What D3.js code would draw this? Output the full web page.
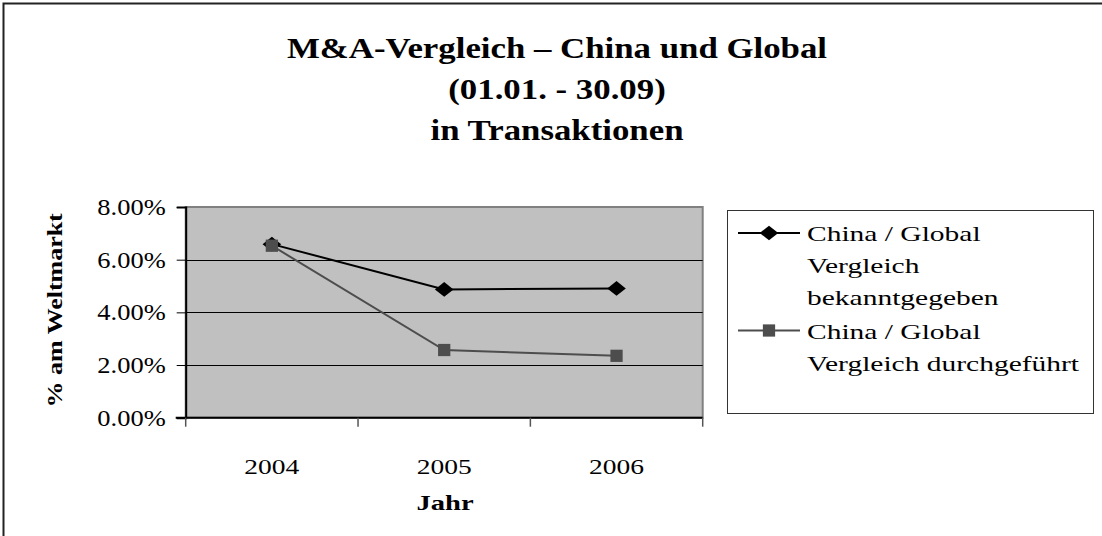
<!DOCTYPE html>
<html>
<head>
<meta charset="utf-8">
<script src="https://cdn.jsdelivr.net/npm/d3@7"></script>
<style>
  body { margin: 0; background: #fff; }
  svg { display: block; font-family: "Liberation Serif", "Times New Roman", serif; }
</style>
</head>
<body>
<div id="chart"></div>
<script>
 var years = ['2004', '2005', '2006'];
 var announced = [0.0659, 0.0487, 0.0491]; // China / Global Vergleich bekanntgegeben
 var completed = [0.0653, 0.0257, 0.0235]; // China / Global Vergleich durchgeführt
 var yTicks = [0, 0.02, 0.04, 0.06, 0.08];
 var titleLines = ['M&A-Vergleich \u2013 China und Global', '(01.01. - 30.09)', 'in Transaktionen'];
 var legendLabels = [['China / Global', 'Vergleich', 'bekanntgegeben'],
                     ['China / Global', 'Vergleich durchgeführt']];

 var pic_width = 1102,
     pic_height = 536;

 // plot area inside the svg
 var plot = { left: 185.7, top: 207, right: 702.7, bottom: 417.7 };

 var svg = d3.select('#chart').append('svg')
     .attr('width', pic_width)
     .attr('height', pic_height);

 // outer frame, runs off the right and bottom edge
 svg.append('rect')
     .attr('x', 3.5).attr('y', 3.5)
     .attr('width', 1110).attr('height', 545)
     .attr('fill', 'none').attr('stroke', '#222').attr('stroke-width', 2);

 // widen text like the original rendering
 function stretch(sel, k, how) {
     sel.each(function() {
         var w = this.getComputedTextLength();
         d3.select(this).attr('textLength', w * k).attr('lengthAdjust', how || 'spacingAndGlyphs');
     });
 }

 // title
 svg.append('g').selectAll('text').data(titleLines)
     .enter().append('text')
     .attr('x', 557)
     .attr('y', function(d, i) { return 58 + i * 41; })
     .attr('text-anchor', 'middle')
     .style('font-size', '29px').style('font-weight', 'bold')
     .text(function(d) { return d; })
     .call(stretch, 1.2);

 var x = d3.scaleBand().domain(years).range([plot.left, plot.right]);
 var y = d3.scaleLinear().domain([0, 0.08]).range([plot.bottom, plot.top]);

 // plot background
 svg.append('rect')
     .attr('x', plot.left).attr('y', plot.top)
     .attr('width', plot.right - plot.left).attr('height', plot.bottom - plot.top)
     .attr('fill', '#C0C0C0')
     .attr('stroke', '#808080').attr('stroke-width', 2);

 // gridlines
 svg.append('g').selectAll('line').data(yTicks.slice(1, -1))
     .enter().append('line')
     .attr('x1', plot.left).attr('x2', plot.right)
     .attr('y1', function(d) { return Math.round(y(d)) + 0.5; })
     .attr('y2', function(d) { return Math.round(y(d)) + 0.5; })
     .attr('stroke', '#000').attr('stroke-width', 1);

 // y axis
 var yAxis = d3.axisLeft(y).tickValues(yTicks).tickSize(9).tickFormat(d3.format('.2%'));
 var gy = svg.append('g')
     .attr('transform', 'translate(' + plot.left + ',0)')
     .call(yAxis);
 gy.select('.domain').attr('stroke', '#000').attr('stroke-width', 2);
 gy.selectAll('.tick line').attr('stroke', '#000');
 gy.selectAll('.tick text')
     .attr('x', -20)
     .style('font-family', '"Liberation Serif", serif')
     .style('font-size', '23px').attr('fill', '#000')
     .call(stretch, 1.15);

 // x axis: ticks between categories
 var edges = years.map(function(d) { return x(d); }).concat([plot.right]);
 var gx = svg.append('g');
 gx.append('line')
     .attr('x1', plot.left - 10).attr('x2', plot.right)
     .attr('y1', plot.bottom).attr('y2', plot.bottom)
     .attr('stroke', '#000').attr('stroke-width', 2);
 gx.selectAll('.xt').data(edges)
     .enter().append('line')
     .attr('x1', function(d) { return d; }).attr('x2', function(d) { return d; })
     .attr('y1', plot.bottom).attr('y2', plot.bottom + 9)
     .attr('stroke', '#555').attr('stroke-width', 1.5);
 gx.selectAll('text').data(years)
     .enter().append('text')
     .attr('x', function(d) { return x(d) + x.bandwidth() / 2; })
     .attr('y', 474)
     .attr('text-anchor', 'middle')
     .style('font-size', '22px')
     .text(function(d) { return d; })
     .call(stretch, 1.25);

 // axis titles
 svg.append('text')
     .attr('x', 445).attr('y', 510)
     .attr('text-anchor', 'middle')
     .style('font-size', '22px').style('font-weight', 'bold')
     .text('Jahr')
     .call(stretch, 1.3);

 svg.append('text')
     .attr('transform', 'translate(62,' + ((plot.top + plot.bottom) / 2 - 2) + ') rotate(-90)')
     .attr('text-anchor', 'middle')
     .style('font-size', '22px').style('font-weight', 'bold')
     .text('% am Weltmarkt')
     .call(stretch, 1.18);

 // series
 var cx = function(d, i) { return x(years[i]) + x.bandwidth() / 2; };
 var line = d3.line().x(cx).y(function(d) { return y(d); });

 var series = [
     { values: announced, color: '#000', marker: 'diamond' },
     { values: completed, color: '#4D4D4D', marker: 'square' }
 ];

 var diamond = d3.symbol().type(d3.symbolSquare).size(120);
 var square = d3.symbol().type(d3.symbolSquare).size(150);

 function drawMarker(g, s, px, py) {
     if (s.marker === 'diamond') {
         g.append('path')
             .attr('d', diamond())
             .attr('transform', 'translate(' + px + ',' + py + ') scale(1.2,0.95) rotate(45)')
             .attr('fill', s.color);
     } else {
         g.append('path')
             .attr('d', square())
             .attr('transform', 'translate(' + px + ',' + py + ')')
             .attr('fill', s.color);
     }
 }

 series.forEach(function(s) {
     var g = svg.append('g');
     g.append('path')
         .datum(s.values)
         .attr('d', line)
         .attr('fill', 'none')
         .attr('stroke', s.color)
         .attr('stroke-width', 2);
     s.values.forEach(function(v, i) {
         drawMarker(g, s, cx(v, i), y(v));
     });
 });

 // legend
 var legend = svg.append('g');
 legend.append('rect')
     .attr('x', 727.5).attr('y', 210.5)
     .attr('width', 366).attr('height', 203)
     .attr('fill', '#fff').attr('stroke', '#333').attr('stroke-width', 1);

 var rowY = 233;
 series.forEach(function(s, k) {
     var ly = rowY;
     legend.append('line')
         .attr('x1', 738).attr('x2', 800)
         .attr('y1', ly).attr('y2', ly)
         .attr('stroke', s.color).attr('stroke-width', 2);
     drawMarker(legend, { marker: s.marker, color: s.color }, 769, ly);
     legendLabels[k].forEach(function(t, j) {
         legend.append('text')
             .attr('x', 807)
             .attr('y', ly + 8 + j * 32)
             .style('font-size', '22px')
             .text(t)
             .call(stretch, 1.34);
     });
     rowY += legendLabels[k].length * 32.5;
 });
</script>
</body>
</html>
